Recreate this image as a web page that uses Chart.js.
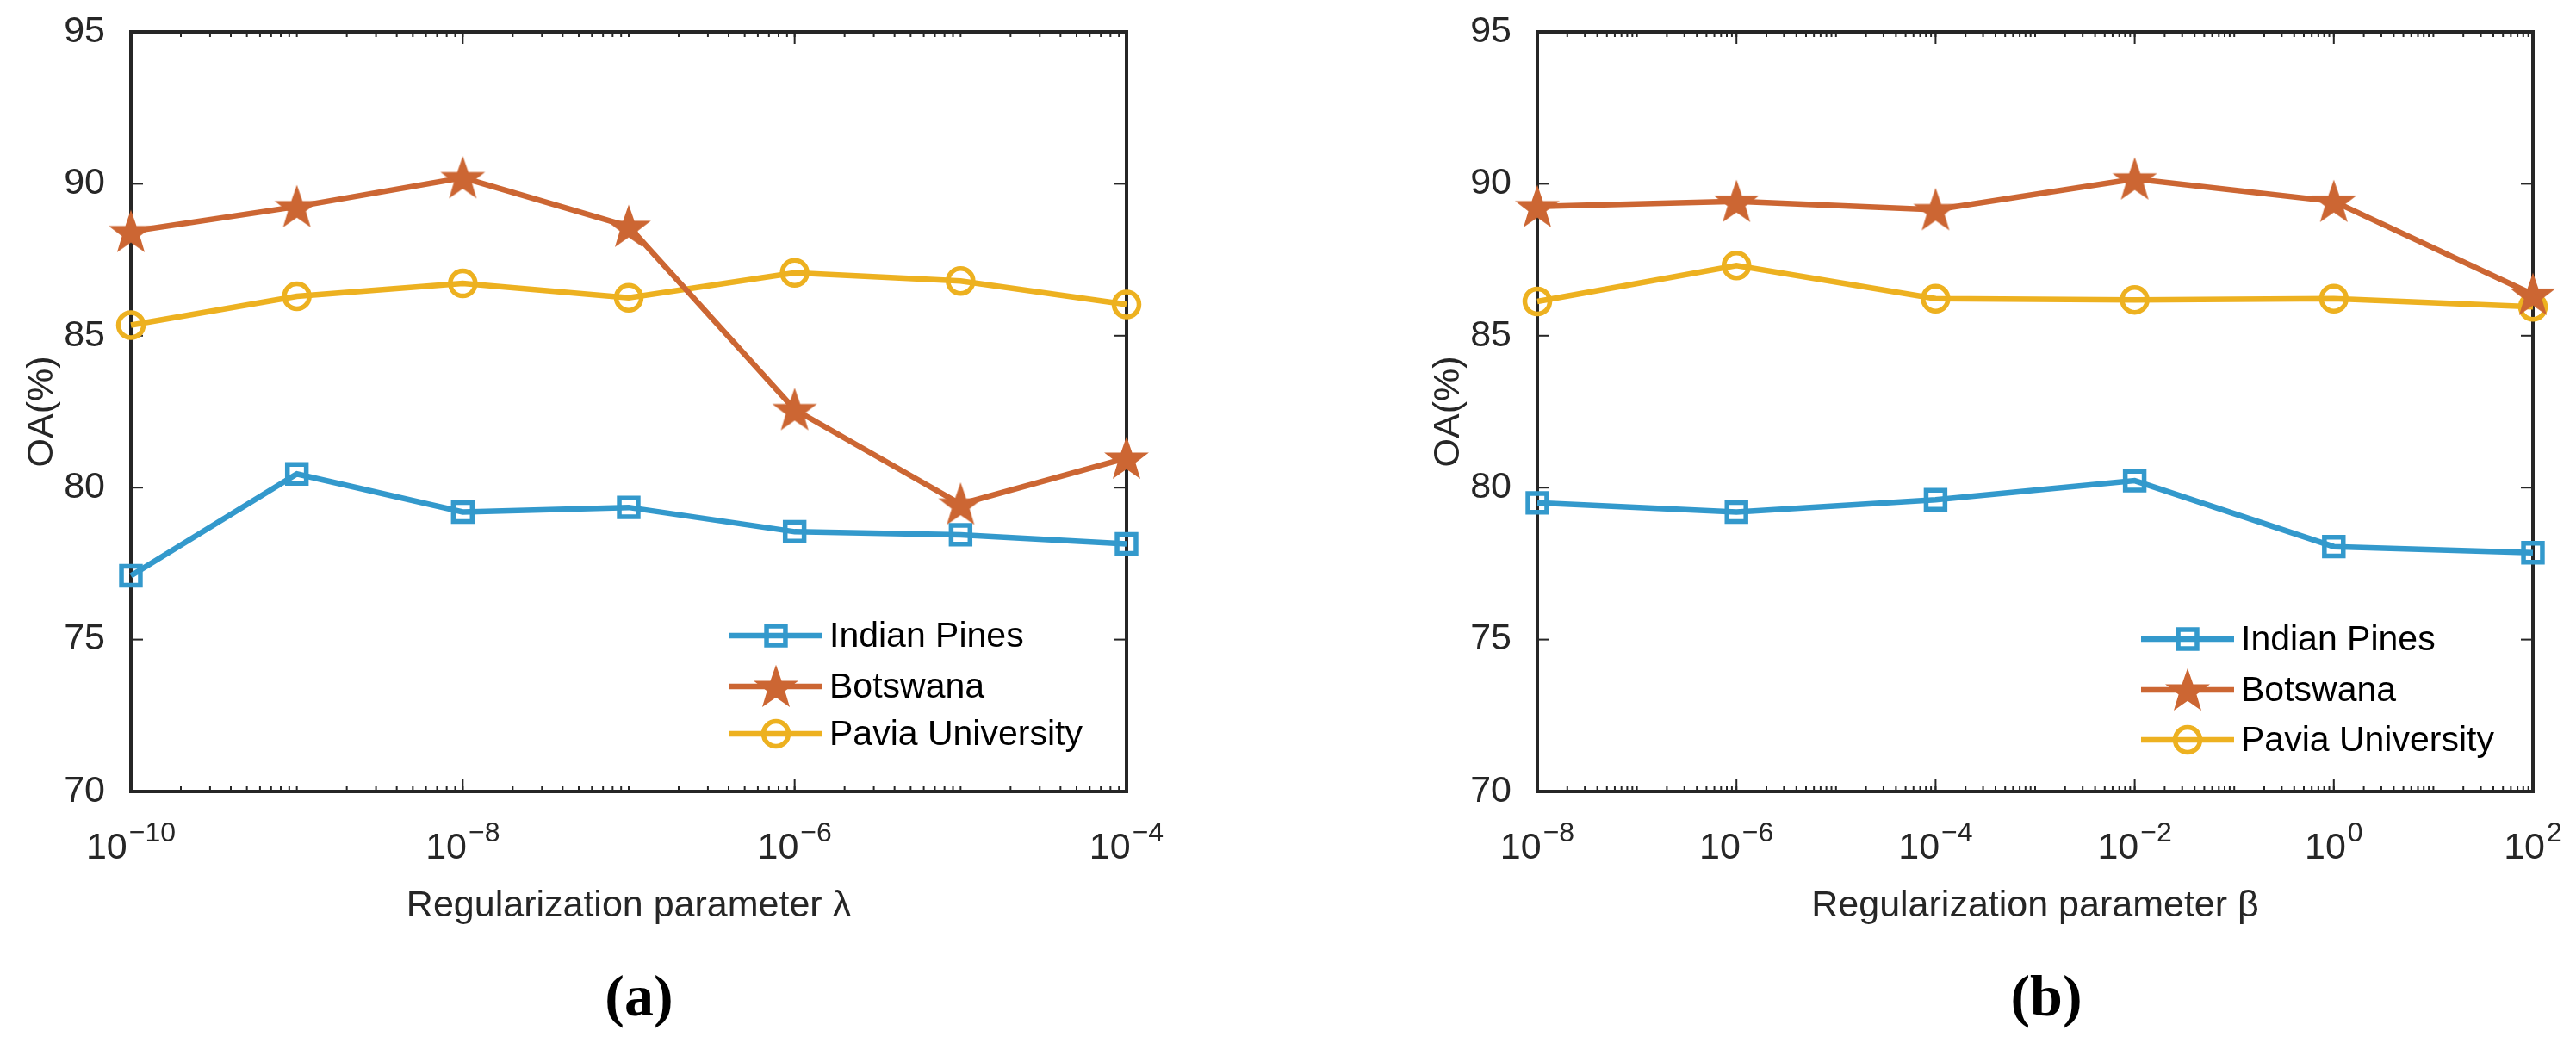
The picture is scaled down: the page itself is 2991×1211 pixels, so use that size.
<!DOCTYPE html>
<html>
<head>
<meta charset="utf-8">
<script src="https://cdn.jsdelivr.net/npm/chart.js@4.4.0/dist/chart.umd.min.js"></script>
<style>
  html, body { margin: 0; padding: 0; background: #fff; }
  body { width: 2991px; height: 1211px; position: relative; overflow: hidden; }
  canvas { position: absolute; top: 0; }
  #chartA { left: 0; }
  #chartB { left: 1633px; }
  .tag { position: absolute; top: 1117px; line-height: 68px; font: bold 68px "Liberation Serif", serif; color: #000; transform: translateX(-50%); }
</style>
</head>
<body>
<canvas id="chartA" width="1358" height="1211"></canvas>
<canvas id="chartB" width="1358" height="1211"></canvas>
<div class="tag" style="left:742px">(a)</div>
<div class="tag" style="left:2376px">(b)</div>
<script>
// values
const seriesNames = ["Indian Pines", "Botswana", "Pavia University"];
const yTicks = [70, 75, 80, 85, 90, 95];

const lambdaValues = [1e-10, 1e-9, 1e-8, 1e-7, 1e-6, 1e-5, 1e-4];
const lambdaTicks = [1e-10, 1e-8, 1e-6, 1e-4];
const indianPinesA = [77.1, 80.45, 79.2, 79.35, 78.55, 78.45, 78.15];
const botswanaA = [88.43, 89.25, 90.2, 88.6, 82.57, 79.46, 80.97];
const paviaA = [85.35, 86.3, 86.72, 86.25, 87.07, 86.8, 86.03];

const betaValues = [1e-8, 1e-6, 1e-4, 1e-2, 1e0, 1e2];
const betaTicks = [1e-8, 1e-6, 1e-4, 1e-2, 1e0, 1e2];
const indianPinesB = [79.5, 79.2, 79.6, 80.23, 78.06, 77.86];
const botswanaB = [89.25, 89.42, 89.15, 90.16, 89.42, 86.36];
const paviaB = [86.13, 87.31, 86.22, 86.18, 86.22, 85.95];

const axisColor = "#262626";
const fontFamily = '"Liberation Sans", Arial, sans-serif';

// MATLAB style pentagram marker
const pentagram = (() => {
  const c = document.createElement("canvas");
  c.width = 54; c.height = 54;
  const g = c.getContext("2d");
  g.beginPath();
  for (let i = 0; i < 10; i++) {
    const r = i % 2 === 0 ? 25 : 10;
    const a = -Math.PI / 2 + i * Math.PI / 5;
    const px = 27 + r * Math.cos(a), py = 29 + r * Math.sin(a);
    if (i === 0) g.moveTo(px, py); else g.lineTo(px, py);
  }
  g.closePath();
  g.fillStyle = "#CC6633";
  g.strokeStyle = "#CC6633";
  g.lineWidth = 1.5;
  g.fill();
  g.stroke();
  return c;
})();

const seriesStyles = [
  { color: "#3399CC", pointStyle: "rect", radius: 15.5 },
  { color: "#CC6633", pointStyle: pentagram, radius: 24 },
  { color: "#EDB120", pointStyle: "circle", radius: 14.5 }
];

function strokeLine(ctx, x1, y1, x2, y2) {
  ctx.beginPath();
  ctx.moveTo(x1, y1);
  ctx.lineTo(x2, y2);
  ctx.stroke();
}

const matlabAxes = {
  id: "matlabAxes",
  beforeDatasetsDraw(chart, args, opts) {
    const { ctx, chartArea } = chart;
    const { left, right, top, bottom } = chartArea;
    const xs = chart.scales.x, ys = chart.scales.y;
    ctx.save();
    ctx.strokeStyle = axisColor;
    ctx.lineWidth = 2;

    yTicks.forEach(v => {
      const y = ys.getPixelForValue(v);
      strokeLine(ctx, left, y, left + 14, y);
      strokeLine(ctx, right - 14, y, right, y);
    });

    // minor ticks on every decade, major ticks on labelled ones
    const lo = Math.round(Math.log10(xs.min)), hi = Math.round(Math.log10(xs.max));
    for (let d = lo; d < hi; d++) {
      for (let k = 2; k <= 10; k++) {
        const v = k * Math.pow(10, d);
        const x = xs.getPixelForValue(v);
        strokeLine(ctx, x, bottom, x, bottom - 6);
        strokeLine(ctx, x, top, x, top + 6);
      }
    }
    opts.tickValues.forEach(v => {
      const x = xs.getPixelForValue(v);
      strokeLine(ctx, x, bottom, x, bottom - 14);
      strokeLine(ctx, x, top, x, top + 14);
    });

    ctx.lineWidth = 4;
    ctx.strokeRect(left, top, right - left, bottom - top);

    // x tick labels as 10^n
    ctx.fillStyle = axisColor;
    ctx.textAlign = "left";
    ctx.textBaseline = "alphabetic";
    opts.tickValues.forEach(v => {
      const e = Math.round(Math.log10(v));
      const base = "10";
      const exp = (e < 0 ? "\u2212" : "") + Math.abs(e);
      ctx.font = "43px " + fontFamily;
      const wb = ctx.measureText(base).width;
      ctx.font = "32px " + fontFamily;
      const we = ctx.measureText(exp).width;
      const x0 = xs.getPixelForValue(v) - (wb + we + 2) / 2;
      ctx.font = "43px " + fontFamily;
      ctx.fillText(base, x0, bottom + 78);
      ctx.font = "32px " + fontFamily;
      ctx.fillText(exp, x0 + wb + 2, bottom + 58);
    });
    ctx.restore();
  },
  afterDatasetsDraw(chart, args, opts) {
    const { ctx, chartArea } = chart;
    const lg = opts.legend;
    const x0 = chartArea.right + lg.dx;
    ctx.save();
    chart.data.datasets.forEach((ds, i) => {
      const y = chartArea.bottom + lg.rows[i];
      ctx.strokeStyle = ds.borderColor;
      ctx.lineWidth = ds.borderWidth;
      strokeLine(ctx, x0, y, x0 + 108, y);
      ctx.strokeStyle = ds.pointBorderColor;
      ctx.fillStyle = "rgba(0,0,0,0)";
      ctx.lineWidth = ds.pointBorderWidth;
      Chart.helpers.drawPoint(ctx, {
        pointStyle: ds.pointStyle, radius: ds.pointRadius, borderWidth: ds.pointBorderWidth, rotation: 0
      }, x0 + 54, y);
      ctx.fillStyle = "#000";
      ctx.font = "41px " + fontFamily;
      ctx.textAlign = "left";
      ctx.textBaseline = "middle";
      ctx.fillText(ds.label, x0 + 116, y + 2);
    });
    ctx.restore();
  }
};

function makeChart(id, xValues, seriesValues, tickValues, xTitle, legendPos) {
  const datasets = seriesValues.map((vals, i) => ({
    label: seriesNames[i],
    data: vals.map((v, j) => ({ x: xValues[j], y: v })),
    borderColor: seriesStyles[i].color,
    borderWidth: 6.5,
    pointStyle: seriesStyles[i].pointStyle,
    pointRadius: seriesStyles[i].radius,
    pointBorderColor: seriesStyles[i].color,
    pointBackgroundColor: "rgba(0,0,0,0)",
    pointBorderWidth: 5.5,
    tension: 0,
    clip: false
  }));

  return new Chart(document.getElementById(id), {
    type: "line",
    data: { datasets: datasets },
    options: {
      responsive: false,
      animation: false,
      devicePixelRatio: 1,
      layout: { padding: { top: 37, right: 50, left: 0, bottom: 0 } },
      plugins: {
        legend: { display: false },
        tooltip: { enabled: false },
        matlabAxes: { tickValues: tickValues, legend: legendPos }
      },
      scales: {
        x: {
          type: "logarithmic",
          min: tickValues[0],
          max: tickValues[tickValues.length - 1],
          grid: { display: false },
          border: { display: false },
          ticks: { display: false },
          title: {
            display: true,
            text: xTitle,
            color: axisColor,
            font: { family: fontFamily, size: 43 },
            padding: { top: 0, bottom: 133 }
          },
          afterFit: s => { s.height = 292; s.paddingLeft = 0; s.paddingRight = 0; }
        },
        y: {
          min: 70,
          max: 95,
          grid: { display: false },
          border: { display: false },
          ticks: {
            stepSize: 5,
            color: axisColor,
            padding: 22,
            font: { family: fontFamily, size: 43 }
          },
          title: {
            display: true,
            text: "OA(%)",
            color: axisColor,
            font: { family: fontFamily, size: 43 },
            padding: { top: 23, bottom: 0 }
          },
          afterFit: s => { s.width = 152; s.paddingTop = 0; s.paddingBottom = 0; }
        }
      }
    },
    plugins: [matlabAxes]
  });
}

makeChart("chartA", lambdaValues, [indianPinesA, botswanaA, paviaA], lambdaTicks,
  "Regularization parameter \u03bb", { dx: -461, rows: [-181, -122, -67] });
makeChart("chartB", betaValues, [indianPinesB, botswanaB, paviaB], betaTicks,
  "Regularization parameter \u03b2", { dx: -455, rows: [-177, -118, -60] });
</script>
</body>
</html>
